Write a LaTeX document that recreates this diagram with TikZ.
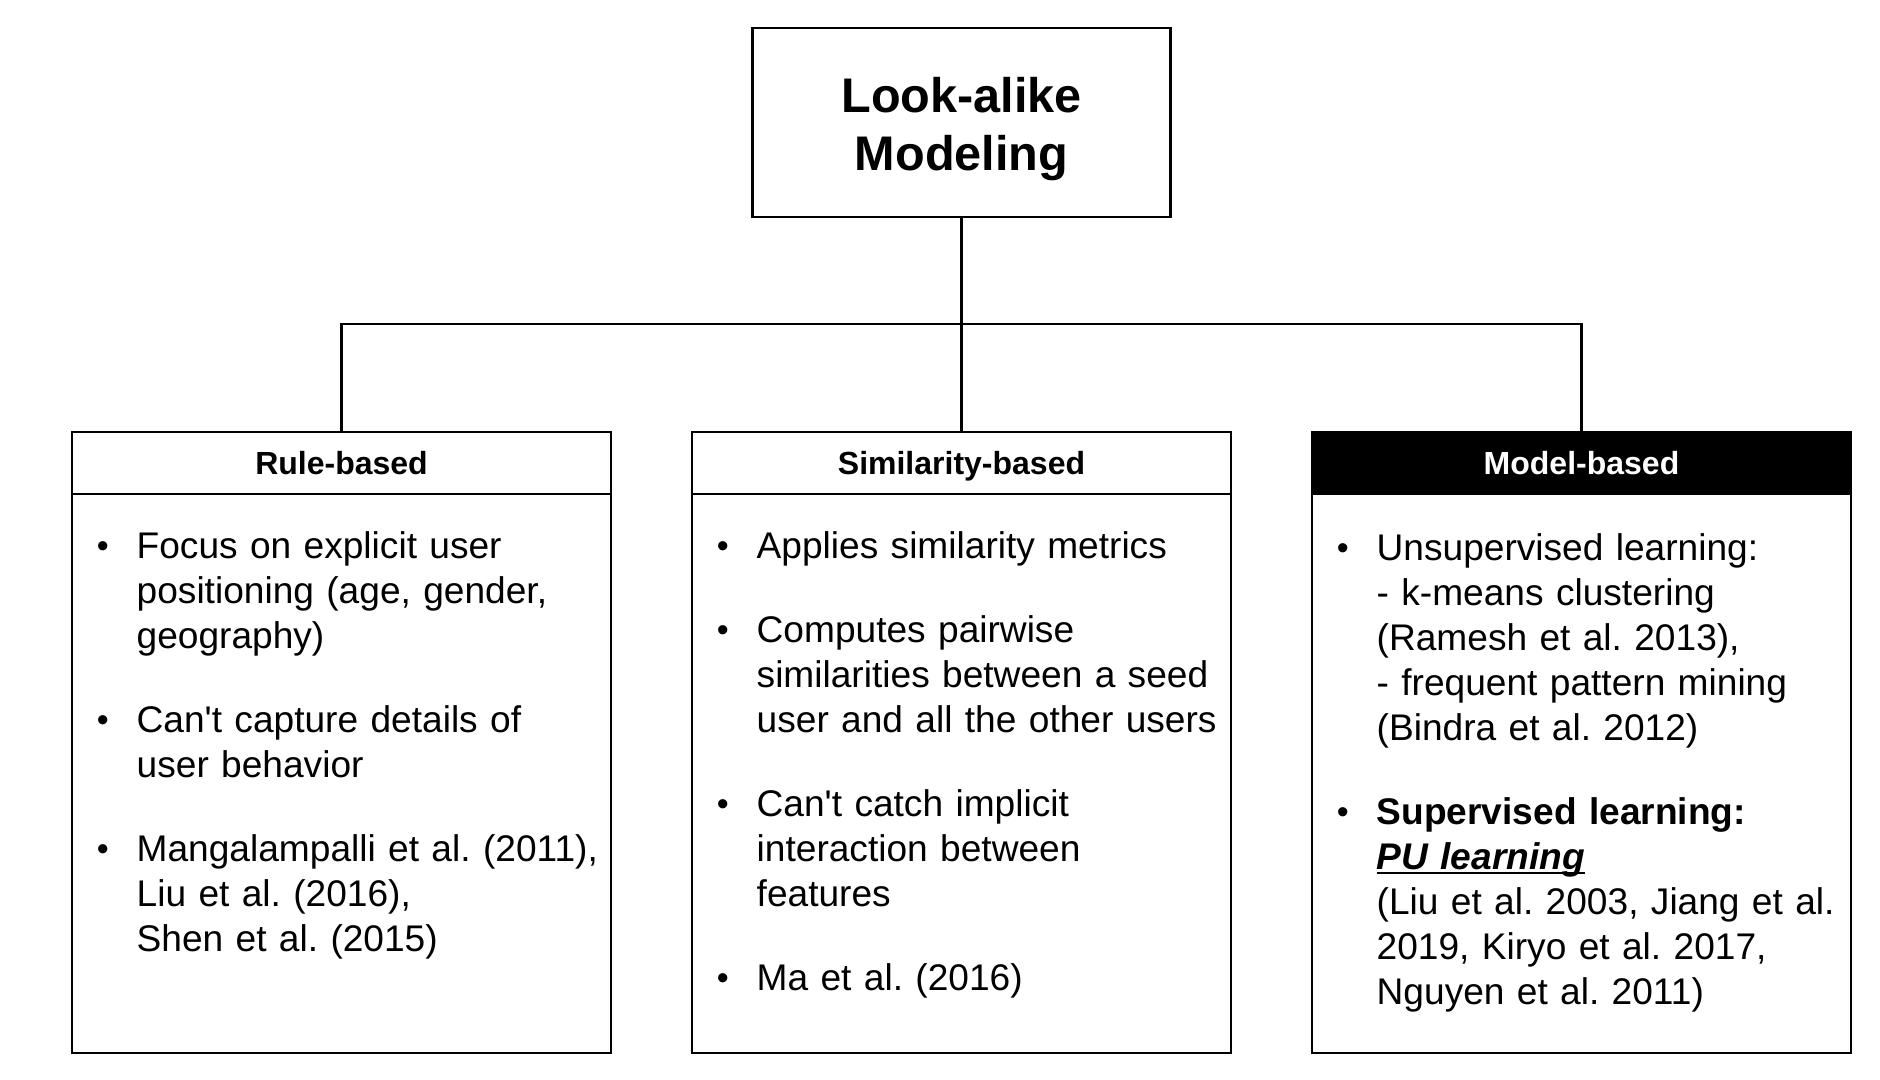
\documentclass[tikz,border=0pt]{standalone}
\usepackage{fontspec}
\setmainfont{Liberation Sans}
\usepackage{enumitem}
\usetikzlibrary{positioning}

\frenchspacing
\setlist[itemize]{nosep,leftmargin=31.75pt,labelsep=14pt,itemsep=19.5pt,
  label={\raisebox{0.3pt}{\fontsize{17}{17}\selectfont\textbullet}}}
\newcommand\puline[1]{\setbox0\hbox{#1}\rlap{\rule[-2.6pt]{\wd0}{1.1pt}}\box0}

\begin{document}
\begin{tikzpicture}[x=0.5pt,y=-0.5pt,line width=1.2pt,
    toprect/.style={draw,rectangle,outer sep=0pt,minimum width=209pt,minimum height=94.5pt,
      align=center,font=\fontsize{24.3}{29}\selectfont\bfseries},
    cathead/.style={draw,rectangle,outer sep=0pt,inner sep=0pt,minimum width=269.5pt,
      minimum height=31pt,text height=11.5pt,text depth=0pt,font=\fontsize{16}{19}\selectfont\bfseries},
    catbody/.style={draw,rectangle,outer sep=0pt,minimum width=269.5pt,minimum height=279.5pt},
    itemlist/.style={inner sep=0pt,text width=270pt,align=left,font=\fontsize{18.55}{22.5}\selectfont}]
  \useasboundingbox (0,0) rectangle (1880,1080);

  \node[toprect] (lookalike) at (961.5,122.5) {\rule{0pt}{23.7pt}Look-alike\\Modeling};

  \node[cathead] (rule) at (341.5,463) {Rule-based};
  \node[cathead] (sim) at (961.5,463) {Similarity-based};
  \node[cathead,fill=black,text=white] (model) at (1581.5,463) {Model-based};

  \node[catbody,below=0pt of rule] (rulebody) {};
  \node[catbody,below=0pt of sim] (simbody) {};
  \node[catbody,below=0pt of model] (modelbody) {};

  \coordinate (bus) at (961.5,324);
  \draw (lookalike.south) -- (sim.north);
  \draw (rule.north) |- (bus) -| (model.north);

  \node[itemlist,below right=9.2pt and 0pt of rulebody.north west] (rulelist) {%
    \begin{itemize}
      \item \strut Focus on explicit user\newline positioning (age, gender,\newline geography)
      \item Can\textquotesingle t capture details of\newline user behavior
      \item Mangalampalli et al. (2011),\newline Liu et al. (2016),\newline Shen et al. (2015)
    \end{itemize}};
  \node[itemlist,below right=9.2pt and 0pt of simbody.north west] (simlist) {%
    \begin{itemize}
      \item \strut Applies similarity metrics
      \item Computes pairwise\newline similarities between a seed\newline user and all the other users
      \item Can\textquotesingle t catch implicit\newline interaction between\newline features
      \item Ma et al. (2016)
    \end{itemize}};
  \node[itemlist,below right=10pt and 0pt of modelbody.north west] (modellist) {%
    \begin{itemize}
      \item \strut Unsupervised learning:\newline - k-means clustering\newline (Ramesh et al. 2013),\newline
        - frequent pattern mining\newline (Bindra et al. 2012)
      \item \textbf{Supervised learning:}\newline \puline{\textbf{\textit{PU learning}}}\newline
        (Liu et al. 2003, Jiang et al.\newline 2019, Kiryo et al. 2017,\newline Nguyen et al. 2011)
    \end{itemize}};
\end{tikzpicture}
\end{document}
